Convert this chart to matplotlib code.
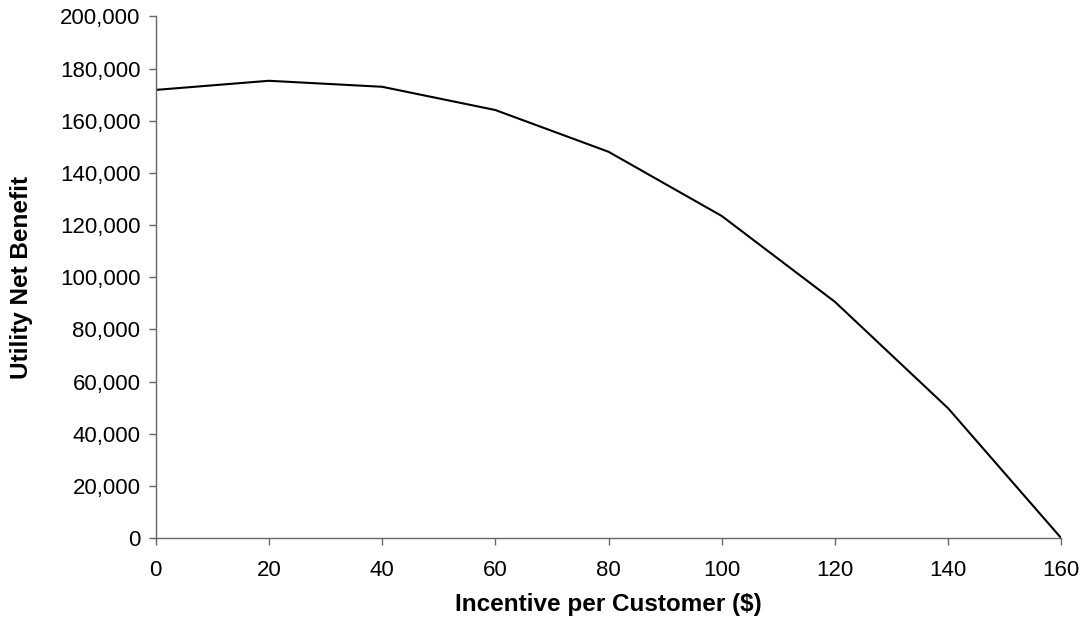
import matplotlib
matplotlib.use("Agg")
import matplotlib.pyplot as plt
from matplotlib.ticker import FuncFormatter

incentive = [0, 20, 40, 60, 80, 100, 120, 140, 160]
net_benefit = [171800, 175300, 173000, 164100, 148100, 123500, 90600, 49800, 0]

plt.rcParams["font.family"] = ["Liberation Sans", "DejaVu Sans"]

fig = plt.figure(figsize=(10.88, 6.23), dpi=100)
ax = fig.add_axes([0.1431, 0.1360, 0.8324, 0.8378])

ax.plot(incentive, net_benefit, color="black", linewidth=1.5)

ax.set_xlim(0, 160)
ax.set_ylim(0, 200000)
ax.set_xticks(range(0, 161, 20))
ax.set_yticks(range(0, 200001, 20000))
ax.yaxis.set_major_formatter(FuncFormatter(lambda v, p: f"{int(v):,}"))

for s in ["top", "right"]:
    ax.spines[s].set_visible(False)
for s in ["left", "bottom"]:
    ax.spines[s].set_color("#666666")
    ax.spines[s].set_linewidth(1.0)
ax.tick_params(direction="out", length=5, width=1, color="#666666", labelsize=16)
ax.tick_params(axis="y", pad=6)
ax.tick_params(axis="x", pad=10.5)

ax.set_xlabel("Incentive per Customer ($)", fontsize=17.5, fontweight="bold")
ax.set_ylabel("Utility Net Benefit", fontsize=17.5, fontweight="bold")
ax.xaxis.label.set_va("center")
ax.yaxis.label.set_va("center")
ax.xaxis.set_label_coords(0.5, -0.127)
ax.yaxis.set_label_coords(-0.148, 0.5)

fig.savefig("out.png", dpi=100)
